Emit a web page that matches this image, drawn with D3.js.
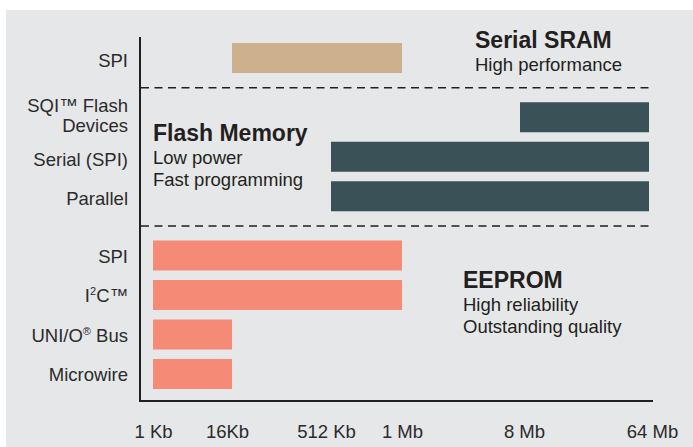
<!DOCTYPE html>
<html>
<head>
<meta charset="utf-8">
<script src="https://cdn.jsdelivr.net/npm/d3@7"></script>
<style>
	body{margin:0;background:#fff}
	svg{display:block;font-family:"Liberation Sans",Arial,sans-serif}
</style>
</head>
<body>
<svg width="693" height="447"></svg>
<script>
// rows, top to bottom
const labels = ["SPI", "SQI™ Flash|Devices", "Serial (SPI)", "Parallel", "SPI", "I²C™", "UNI/O® Bus", "Microwire"]
const groups = ["sram", "flash", "flash", "flash", "eeprom", "eeprom", "eeprom", "eeprom"]
// density range in Kb
const lowKb  = [16, 8192, 512, 512, 1, 1, 1, 1]
const highKb = [1024, 65536, 65536, 65536, 1024, 1024, 16, 16]

const tickKb = [1, 16, 512, 1024, 8192, 65536]
const tickText = ["1 Kb", "16Kb", "512 Kb", "1 Mb", "8 Mb", "64 Mb"]

const groupTitles = ["Serial SRAM", "Flash Memory", "EEPROM"]
const groupNotes = [["High performance"], ["Low power", "Fast programming"], ["High reliability", "Outstanding quality"]]

const colors = {sram: "#cdb08d", flash: "#3a5157", eeprom: "#f58b77"}
const ink = "#231f20"

const svg = d3.select("svg")

svg.append("rect")
	.attr("x", 6).attr("y", 10)
	.attr("width", 687).attr("height", 437)
	.attr("fill", "#e6e7e8")

// the axis is not a true log scale: each labelled density gets its own spot
const x = d3.scaleLinear()
	.domain(tickKb.map(Math.log2))
	.range([153, 232, 331, 402, 520, 649])
const xk = kb => x(Math.log2(kb))

// rows sit on a slot grid, with an extra half slot between groups
let slot = 0
const slots = groups.map((g, i) => {
	if(i > 0 && g !== groups[i-1]) slot += 0.5
	return i === 0 ? 0 : ++slot
})
const y = d3.scaleLinear().domain([0, 8]).range([58, 374])
const barH = 30

// bars
svg.append("g").selectAll("rect")
	.data(labels)
	.join("rect")
	  .attr("x", (d, i) => xk(lowKb[i]))
	  .attr("y", (d, i) => y(slots[i]) - barH/2)
	  .attr("width", (d, i) => xk(highKb[i]) - xk(lowKb[i]))
	  .attr("height", barH)
	  .attr("fill", (d, i) => colors[groups[i]])

// axes lines
svg.append("line")
	.attr("x1", 140).attr("x2", 140)
	.attr("y1", 37).attr("y2", 401)
	.attr("stroke", ink).attr("stroke-width", 2)
svg.append("line")
	.attr("x1", 139).attr("x2", 653)
	.attr("y1", 401).attr("y2", 401)
	.attr("stroke", ink).attr("stroke-width", 2)

// group separators halfway between the last row of a group and the next one
groups.forEach((g, i) => {
	if(i === 0 || g === groups[i-1]) return
	const ys = (y(slots[i-1]) + y(slots[i])) / 2
	svg.append("line")
		.attr("x1", 141).attr("x2", 653)
		.attr("y1", ys).attr("y2", ys)
		.attr("stroke", ink).attr("stroke-width", 1.5)
		.attr("stroke-dasharray", "8 5.5")
})

// x tick labels (printed a touch off the bar ends in the original)
const tickNudge = [0, -5, -5, 0, 4, 3]
const xAxis = d3.axisBottom(x)
	.tickValues(tickKb.map(Math.log2))
	.tickSize(0)
	.tickFormat((d, i) => tickText[i])
svg.append("g")
	.attr("transform", "translate(0,422)")
	.call(xAxis)
	.call(g => g.select(".domain").remove())
	.selectAll("text")
	  .attr("dx", (d, i) => tickNudge[i])
	  .attr("font-family", "'Liberation Sans',Arial,sans-serif")
	  .attr("font-size", 18.5)
	  .attr("fill", "#2b2b2b")

// row labels, with small raised glyphs for ² and ®
function richText(sel, str){
	let raised = false
	for(const ch of str){
		if(ch === "²" || ch === "®"){
			sel.append("tspan").attr("font-size", 11).attr("dy", -7)
				.text(ch === "²" ? "2" : "®")
			raised = true
		}else{
			sel.append("tspan").attr("dy", raised ? 7 : null).text(ch)
			raised = false
		}
	}
}
labels.forEach((lab, i) => {
	const lines = lab.split("|")
	const yc = y(slots[i])
	const off = groups[i] === "eeprom" ? 7 : 9
	lines.forEach((ln, j) => {
		const t = svg.append("text")
			.attr("x", 128)
			.attr("y", lines.length > 1 ? yc - 5 + j*20 : yc + off)
			.attr("text-anchor", "end")
			.attr("font-size", 18.5)
			.attr("fill", "#2b2b2b")
		richText(t, ln)
	})
})

// group titles and notes
const titlePos = [[475, 48], [153, 141], [463, 288]]
groupTitles.forEach((title, i) => {
	const [tx, ty] = titlePos[i]
	svg.append("text")
		.attr("x", tx).attr("y", ty)
		.attr("font-size", 23).attr("font-weight", "bold")
		.attr("fill", ink)
		.text(title)
	groupNotes[i].forEach((n, j) => {
		svg.append("text")
			.attr("x", tx).attr("y", ty + 23 + j*22)
			.attr("font-size", 18.5)
			.attr("fill", ink)
			.text(n)
	})
})
</script>
</body>
</html>
